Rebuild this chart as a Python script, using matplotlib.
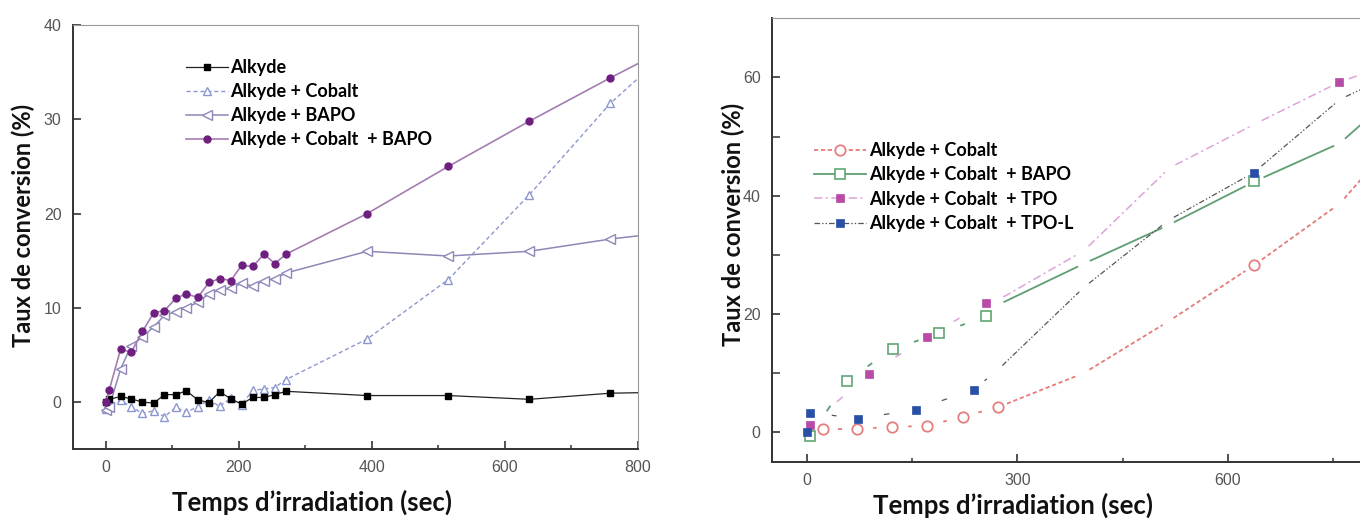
import numpy as np
import matplotlib
matplotlib.use('Agg')
import matplotlib.pyplot as plt
from matplotlib.lines import Line2D
from matplotlib.ticker import MultipleLocator

plt.rcParams['lines.scale_dashes'] = False

# ---- left panel : irradiation time (s) and conversion (%)
T_LEFT = [0, 5, 22, 38, 55, 72, 88, 105, 121, 138, 155, 171, 188, 204, 221, 238, 254, 271,
          393, 515, 637, 759, 880]
ALKYDE = [0.0, 0.3, 0.6, 0.35, 0.0, -0.1, 0.8, 0.8, 1.2, 0.25, -0.05, 1.1, 0.35, -0.2, 0.5, 0.5,
          0.8, 1.15, 0.7, 0.7, 0.3, 0.95, 1.1]
ALKYDE_COBALT = [-0.7, -0.4, 0.2, -0.5, -1.2, -0.9, -1.55, -0.55, -1.05, -0.5, 0.25, -0.45, 0.45,
                 -0.25, 1.25, 1.4, 1.55, 2.4, 6.7, 13.0, 22.0, 31.7, 39.4]
ALKYDE_BAPO = [-0.8, -0.5, 3.5, 6.0, 6.9, 8.0, 9.2, 9.6, 10.0, 10.6, 11.5, 11.9, 12.1, 12.6, 12.3,
               12.9, 13.1, 13.7, 16.0, 15.5, 16.0, 17.3, 18.3]
ALKYDE_COBALT_BAPO = [0.0, 1.3, 5.6, 5.3, 7.5, 9.5, 9.7, 11.0, 11.5, 11.1, 12.7, 13.1, 12.9, 14.5,
                      14.4, 15.7, 14.7, 15.7, 20.0, 25.0, 29.8, 34.4, 38.8]
LEFT_LABELS = ['Alkyde', 'Alkyde + Cobalt', 'Alkyde + BAPO', 'Alkyde + Cobalt  + BAPO']

# ---- right panel : measured points (with symbol) and line-only points
COB_T = [23, 72, 122, 172, 222, 272, 637]
COB_V = [0.6, 0.6, 0.85, 1.1, 2.6, 4.2, 28.2]
COB_LT = [395, 515, 760, 880]
COB_LV = [10.0, 18.7, 38.7, 55.0]

BAPO_T = [5, 57, 123, 189, 255, 638]
BAPO_V = [-0.7, 8.7, 14.1, 16.7, 19.6, 42.4]
BAPO_LT = [272, 395, 515, 760, 880]
BAPO_LV = [21.5, 28.5, 35.0, 48.9, 61.5]

TPO_T = [5, 89, 172, 255, 759]
TPO_V = [1.2, 9.9, 16.1, 21.9, 59.2]
TPO_LT = [272, 395, 517, 640, 880]
TPO_LV = [22.3, 30.7, 44.7, 52.2, 64.3]

TPOL_T = [0, 5, 73, 155, 238, 637]
TPOL_V = [0.0, 3.3, 2.3, 3.8, 7.2, 43.9]
TPOL_LT = [272, 395, 515, 760, 880]
TPOL_LV = [10.5, 24.5, 35.8, 56.3, 63.0]

RIGHT_LABELS = ['Alkyde + Cobalt', 'Alkyde + Cobalt  + BAPO', 'Alkyde + Cobalt  + TPO',
                'Alkyde + Cobalt  + TPO-L']

XLABEL = 'Temps d\u2019irradiation (sec)'
YLABEL = 'Taux de conversion (%)'

TICK_FONT = dict(family='Liberation Sans', size=11.5, color='#555555')
XLABEL_FONT = dict(family='Lato', weight='bold', size=18.5, color='#111111')
YLABEL_FONT = dict(family='Lato', weight='bold', size=17, color='#111111')
LEG_FONT = dict(family='Lato', weight='bold', size=13)


def style_axes(ax, ylen_min):
    for side in ['left', 'bottom']:
        ax.spines[side].set_linewidth(1.4)
        ax.spines[side].set_color('#333333')
    for side in ['top', 'right']:
        ax.spines[side].set_linewidth(0.8)
        ax.spines[side].set_color('#9a9a9a')
    ax.tick_params(which='major', direction='in', length=6, width=1.2, color='#333333')
    ax.tick_params(which='minor', direction='in', length=3, width=1.1, color='#333333')
    ax.tick_params(axis='y', which='minor', length=ylen_min)
    ax.tick_params(axis='both', pad=8)
    for lab in ax.get_xticklabels() + ax.get_yticklabels():
        lab.set_fontfamily(TICK_FONT['family'])
        lab.set_fontsize(TICK_FONT['size'])
        lab.set_color(TICK_FONT['color'])


def gapped_line(ax, t_mark, v_mark, t_line, v_line, **kw):
    # Origin style: the line stops short of every data point,
    # close points only keep a small piece of line in between
    pts = sorted([(t, v, 10.0) for t, v in zip(t_mark, v_mark)] +
                 [(t, v, 6.5) for t, v in zip(t_line, v_line)])
    xy = ax.transData.transform([(p[0], p[1]) for p in pts])
    inv = ax.transData.inverted()
    for k in range(len(pts) - 1):
        a, b = xy[k], xy[k + 1]
        L = np.hypot(*(b - a))
        g0, g1 = pts[k][2], pts[k + 1][2]
        if L < 80:
            g0 = max(g0, 0.45 * L)
            g1 = max(g1, 0.45 * L)
        if g0 + g1 >= L - 1:
            continue
        u = (b - a) / L
        seg = inv.transform([a + u * g0, b - u * g1])
        ax.plot(seg[:, 0], seg[:, 1], solid_capstyle='butt', dash_capstyle='butt', zorder=2, **kw)


fig = plt.figure(figsize=(13.6, 5.21), dpi=100)

# ---------------- left
ax1 = fig.add_axes([0.05346, 0.13762, 0.41544, 0.81440])
ax1.set_xlim(-50, 800)
ax1.set_ylim(-5, 40)
ax1.xaxis.set_major_locator(MultipleLocator(200))
ax1.xaxis.set_minor_locator(MultipleLocator(100))
ax1.yaxis.set_major_locator(MultipleLocator(10))

ax1.plot(T_LEFT, ALKYDE_COBALT, color='#8d97cf', lw=1.0, ls=(0, (3, 2)), marker='^', ms=6,
         mfc='white', mec='#8d97cf', mew=1.0, label=LEFT_LABELS[1], zorder=3)
ax1.plot(T_LEFT, ALKYDE_BAPO, color='#8e88b8', lw=1.1, marker='<', ms=6.5,
         mfc='white', mec='#8e88b8', mew=1.0, label=LEFT_LABELS[2], zorder=3)
ax1.plot(T_LEFT, ALKYDE, color='#222222', lw=0.9, marker='s', ms=4, mfc='black', mec='black',
         label=LEFT_LABELS[0], zorder=4)
ax1.plot(T_LEFT, ALKYDE_COBALT_BAPO, color='#a47db2', lw=1.2, marker='o', ms=5, mfc='#6e1f80',
         mec='#6e1f80', label=LEFT_LABELS[3], zorder=5)

style_axes(ax1, 3)
h, l = ax1.get_legend_handles_labels()
order = [2, 0, 1, 3]
ax1.legend([h[i] for i in order], [l[i] for i in order], loc='upper left',
           bbox_to_anchor=(0.1368, 0.886), bbox_transform=fig.transFigure,
           frameon=False, borderpad=0, borderaxespad=0, handlelength=2.3,
           handletextpad=0.15, labelspacing=0.38, prop=LEG_FONT)

# ---------------- right (cropped on the right side like the source)
ax2 = fig.add_axes([0.56743, 0.11382, 0.49015, 0.85106])
ax2.set_xlim(-50, 900)
ax2.set_ylim(-5, 70)
ax2.set_xticks([0, 300, 600])
ax2.set_xticks([150, 450, 750], minor=True)
ax2.set_yticks([0, 20, 40, 60])
ax2.set_yticks([10, 30, 50], minor=True)
style_axes(ax2, 5.5)

series = [
    (COB_T, COB_V, COB_LT, COB_LV, '#e57a7a', (0, (3, 2)), 1.3,
     dict(marker='o', ms=7.5, mfc='white', mec='#e67e7e', mew=1.3)),
    (BAPO_T, BAPO_V, BAPO_LT, BAPO_LV, '#5e9e72', '-', 1.3,
     dict(marker='s', ms=6.5, mfc='white', mec='#5fa574', mew=1.2)),
    (TPO_T, TPO_V, TPO_LT, TPO_LV, '#dca4da', (0, (6, 2.5, 1.5, 2.5)), 1.1,
     dict(marker='s', ms=5.5, mfc='#b84aa8', mec='#b84aa8', mew=0.5)),
    (TPOL_T, TPOL_V, TPOL_LT, TPOL_LV, '#555555', (0, (4, 1.5, 1, 1.5, 1, 1.5)), 0.9,
     dict(marker='s', ms=6, mfc='#2a4fa6', mec='#2a4fa6', mew=0.5)),
]
handles = []
for (t, v, lt, lv, col, ls, lw, mk), lab in zip(series, RIGHT_LABELS):
    gapped_line(ax2, t, v, lt, lv, color=col, ls=ls, lw=lw)
    ax2.plot(t, v, ls='none', zorder=4, **mk)
    handles.append(Line2D([], [], color=col, ls=ls, lw=lw, **mk))

ax2.legend(handles, RIGHT_LABELS, loc='upper left',
           bbox_to_anchor=(0.5982, 0.727), bbox_transform=fig.transFigure,
           frameon=False, borderpad=0, borderaxespad=0, handlelength=2.9,
           handletextpad=0.15, labelspacing=0.4, prop=LEG_FONT)

# axis titles
fig.text(23 / 1360, 1 - 225 / 521, YLABEL, rotation=90, ha='center', va='center', **YLABEL_FONT)
fig.text(312 / 1360, 1 - 502 / 521, XLABEL, ha='center', va='center', **XLABEL_FONT)
fig.text(733 / 1360, 1 - 224 / 521, YLABEL, rotation=90, ha='center', va='center', **YLABEL_FONT)
fig.text(1013 / 1360, 1 - 505 / 521, XLABEL, ha='center', va='center', **XLABEL_FONT)

fig.savefig('out.png', dpi=100)
